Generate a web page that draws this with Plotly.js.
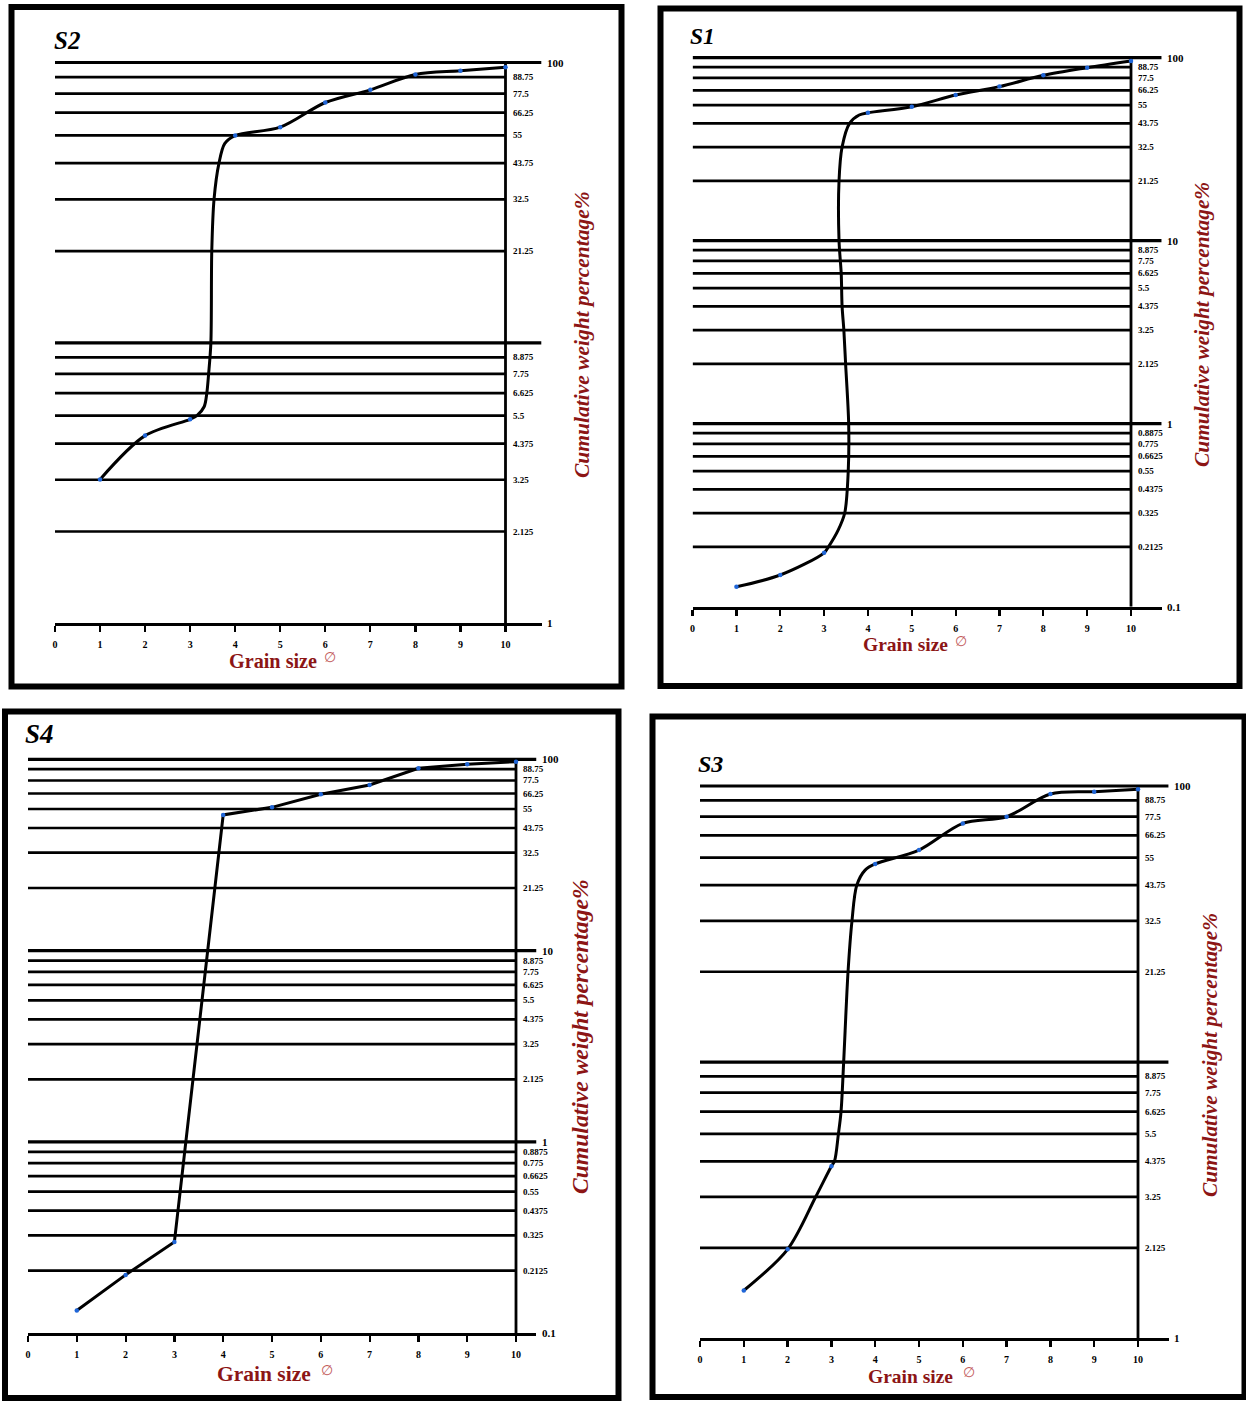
<!DOCTYPE html>
<html>
<head>
<meta charset="utf-8">
<script src="https://cdn.plot.ly/plotly-3.0.1.min.js"></script>
<style>html,body{margin:0;padding:0;background:#fff;}#chart{width:1246px;height:1401px;}</style>
</head>
<body>
<div id="chart"></div>
<script>
// ---------------- data ----------------
const phiTicks = [0,1,2,3,4,5,6,7,8,9,10];
const phiTickText = ['0','1','2','3','4','5','6','7','8','9','10'];

const upperTicks = [100,88.75,77.5,66.25,55,43.75,32.5,21.25,10,8.875,7.75,6.625,5.5,4.375,3.25,2.125,1];
const upperTickText = ['100','88.75','77.5','66.25','55','43.75','32.5','21.25','10','8.875','7.75','6.625','5.5','4.375','3.25','2.125','1'];
const lowerTicks = [0.8875,0.775,0.6625,0.55,0.4375,0.325,0.2125,0.1];
const lowerTickText = ['0.8875','0.775','0.6625','0.55','0.4375','0.325','0.2125','0.1'];

// S2
const S2_phi = [1,2,3,4,5,6,7,8,9,10];
const S2_cum = [3.26,4.67,5.34,54.9,58.8,72.0,79.9,90.6,93.4,96.2];
const S2_curvePhi = [1,2,3,3.15,3.31,3.37,3.41,3.46,3.48,3.53,3.64,3.77,4,5,6,7,8,9,10];
const S2_curveCum = [3.26,4.67,5.34,5.5,5.92,6.625,7.75,10,21.25,32.5,43.75,51.5,54.9,58.8,72.0,79.9,90.6,93.4,96.2];

// S1
const S1_phi = [1,2,3,4,5,6,7,8,9,10];
const S1_cum = [0.1286,0.149,0.197,50.0,54.0,62.5,69.5,80.1,88.2,95.9];
const S1_curvePhi = [1,2,3,3.1,3.32,3.47,3.55,3.56,3.49,3.45,3.41,3.39,3.34,3.34,3.41,3.58,3.8,4,5,6,7,8,9,10];
const S1_curveCum = [0.1286,0.149,0.197,0.2125,0.262,0.325,0.55,1,2.125,3.25,4.375,6.625,10,21.25,32.5,43.75,48.6,50.0,54.0,62.5,69.5,80.1,88.2,95.9];

// S4
const S4_phi = [1,2,3,4,5,6,7,8,9,10];
const S4_cum = [0.1315,0.202,0.30,51.2,56.1,65.6,73.4,89.7,94.2,97.2];

// S3
const S3_phi = [1,2,3,4,5,6,7,8,9,10];
const S3_cum = [1.49,2.10,4.2,52.2,58.6,73.2,77.4,93.5,95.4,97.3];
const S3_curvePhi = [1,2,2.64,3,3.07,3.16,3.22,3.28,3.38,3.47,3.58,3.77,4,5,6,7,8,9,10];
const S3_curveCum = [1.49,2.10,3.25,4.2,4.375,5.5,6.625,10,21.25,32.5,43.75,49.6,52.2,58.6,73.2,77.4,93.5,95.4,97.3];

// ---------------- layout helpers ----------------
const W = 1246, H = 1401;
const FONT = 'Liberation Serif, Times New Roman, serif';
const RED = '#8c1515';
const px = v => v / W;
const py = v => 1 - v / H;

const panels = [
  {name:'S2', phi:S2_phi, cum:S2_cum, cPhi:S2_curvePhi, cCum:S2_curveCum, spline:true,
   ticks:upperTicks, text:upperTickText.map(t => t === '10' ? '' : t), ymin:1,
   x0:55, x10:505.5, xmax:10.8, ytop:62.5, ybot:623.3,
   border:[11.5,7,621.5,686.5], title:[66.5,40,25], gs:[273,661,20.2,330,657], yt:[582,335,21.5]},
  {name:'S1', phi:S1_phi, cum:S1_cum, cPhi:S1_curvePhi, cCum:S1_curveCum, spline:true,
   ticks:upperTicks.concat(lowerTicks), text:upperTickText.concat(lowerTickText), ymin:0.1,
   x0:692.6, x10:1131, xmax:10.7, ytop:57.7, ybot:606.7,
   border:[660.5,8.5,1239.5,686], title:[702.5,36,23.5], gs:[905,645,19.5,961,641], yt:[1202,325,21.4]},
  {name:'S4', phi:S4_phi, cum:S4_cum, cPhi:S4_phi, cCum:S4_cum, spline:false,
   ticks:upperTicks.concat(lowerTicks), text:upperTickText.concat(lowerTickText), ymin:0.1,
   x0:28, x10:516, xmax:10.42, ytop:759.3, ybot:1333.3,
   border:[5,711.5,618.5,1398], title:[39,734,27], gs:[264,1374,21.5,327,1370], yt:[580,1037,23.6]},
  {name:'S3', phi:S3_phi, cum:S3_cum, cPhi:S3_curvePhi, cCum:S3_curveCum, spline:true,
   ticks:upperTicks, text:upperTickText.map(t => t === '10' ? '' : t), ymin:1,
   x0:700, x10:1138, xmax:10.7, ytop:786, ybot:1338.3,
   border:[652.5,716.5,1244.5,1397], title:[710,764,24], gs:[911,1376,19.5,969,1372], yt:[1210,1055,21.3]}
];

const traces = [];
const layout = {
  width: W, height: H,
  margin: {l:0, r:0, t:0, b:0},
  paper_bgcolor: '#fff', plot_bgcolor: 'rgba(0,0,0,0)',
  showlegend: false,
  annotations: [], shapes: []
};

const TOPPAD = 0.015;

panels.forEach((p, i) => {
  const k = i === 0 ? '' : String(i + 1);
  const xa = 'x' + k, ya = 'y' + k;
  const yMinLog = Math.log10(p.ymin);
  const decs = 2 - yMinLog;
  const pxPerDec = (p.ybot - p.ytop) / decs;
  const topPx = p.ytop - TOPPAD * pxPerDec;
  const pxPerUnit = (p.x10 - p.x0) / 10;
  const rightPx = p.x0 + p.xmax * pxPerUnit;

  layout['xaxis' + k] = {
    domain: [px(p.x0), px(rightPx)], anchor: ya, range: [0, p.xmax],
    showgrid: false, zeroline: false, showline: true, linecolor: '#000', linewidth: 3,
    ticks: 'outside', ticklen: 6, tickwidth: 2.2, tickcolor: '#000',
    tickvals: phiTicks, ticktext: phiTickText, ticklabelstandoff: 4,
    tickfont: {family: FONT, size: 10, color: '#000', weight: 700},
    fixedrange: true
  };
  layout['yaxis' + k] = {
    domain: [py(p.ybot), py(topPx)], anchor: xa, type: 'log',
    range: [yMinLog, 2 + TOPPAD],
    showgrid: false, zeroline: false, showline: false, showticklabels: false, ticks: '',
    fixedrange: true
  };

  // horizontal rules at every tick level
  const minorX = [], minorY = [], decX = [], decY = [];
  p.ticks.forEach(v => {
    if (v === p.ymin) return;
    const isDec = Math.abs(Math.log10(v) - Math.round(Math.log10(v))) < 1e-9;
    if (isDec) { decX.push(0, p.xmax, null); decY.push(v, v, null); }
    else { minorX.push(0, 10, null); minorY.push(v, v, null); }
  });
  traces.push({type:'scatter', mode:'lines', x:minorX, y:minorY, xaxis:xa, yaxis:ya,
    line:{color:'#000', width:2.7}, hoverinfo:'skip'});
  traces.push({type:'scatter', mode:'lines', x:decX, y:decY, xaxis:xa, yaxis:ya,
    line:{color:'#000', width:3.2}, hoverinfo:'skip'});
  // vertical axis line at phi = 10
  traces.push({type:'scatter', mode:'lines', x:[10,10], y:[p.ymin,100], xaxis:xa, yaxis:ya,
    line:{color:'#000', width:2.8}, hoverinfo:'skip'});
  // cumulative curve
  traces.push({type:'scatter', mode:'lines', x:p.cPhi, y:p.cCum, xaxis:xa, yaxis:ya,
    line:{color:'#000', width:3, shape: p.spline ? 'spline' : 'linear', smoothing: 0.9},
    hoverinfo:'skip'});
  // data points
  traces.push({type:'scatter', mode:'markers', x:p.phi, y:p.cum, xaxis:xa, yaxis:ya,
    marker:{color:'#2066d8', size:4.5, symbol:'circle'}, cliponaxis:false, hoverinfo:'skip'});

  // tick labels on the right
  p.ticks.forEach((v, j) => {
    const t = p.text[j];
    if (!t) return;
    const isDec = Math.abs(Math.log10(v) - Math.round(Math.log10(v))) < 1e-9;
    layout.annotations.push({
      xref: xa, yref: ya, x: isDec ? p.xmax : 10, y: Math.log10(v),
      text: t, showarrow: false, xanchor: 'left', yanchor: 'middle',
      xshift: isDec ? 3 : 5,
      font: {family: FONT, size: isDec ? 11 : 9, color: '#000', weight: 700}
    });
  });

  // panel title
  layout.annotations.push({xref:'paper', yref:'paper', x:px(p.title[0]), y:py(p.title[1]),
    text:p.name, showarrow:false, xanchor:'center', yanchor:'middle',
    font:{family:FONT, size:p.title[2], color:'#000', weight:700, style:'italic'}});
  // x title
  layout.annotations.push({xref:'paper', yref:'paper', x:px(p.gs[0]), y:py(p.gs[1]),
    text:'Grain size', showarrow:false, xanchor:'center', yanchor:'middle',
    font:{family:FONT, size:p.gs[2], color:RED, weight:700}});
  layout.annotations.push({xref:'paper', yref:'paper', x:px(p.gs[3]), y:py(p.gs[4]),
    text:'∅', showarrow:false, xanchor:'center', yanchor:'middle',
    font:{family:'DejaVu Sans, sans-serif', size:14, color:'#c25a5a'}});
  // y title
  layout.annotations.push({xref:'paper', yref:'paper', x:px(p.yt[0]), y:py(p.yt[1]),
    text:'Cumulative weight percentage%', showarrow:false, textangle:-90,
    xanchor:'center', yanchor:'middle',
    font:{family:FONT, size:p.yt[2], color:RED, weight:700, style:'italic'}});
  // frame
  layout.shapes.push({type:'rect', xref:'paper', yref:'paper',
    x0:px(p.border[0]), y0:py(p.border[3]), x1:px(p.border[2]), y1:py(p.border[1]),
    line:{color:'#000', width:6}, fillcolor:'rgba(0,0,0,0)'});
});

Plotly.newPlot('chart', traces, layout, {staticPlot:true, displayModeBar:false});
</script>
</body>
</html>
